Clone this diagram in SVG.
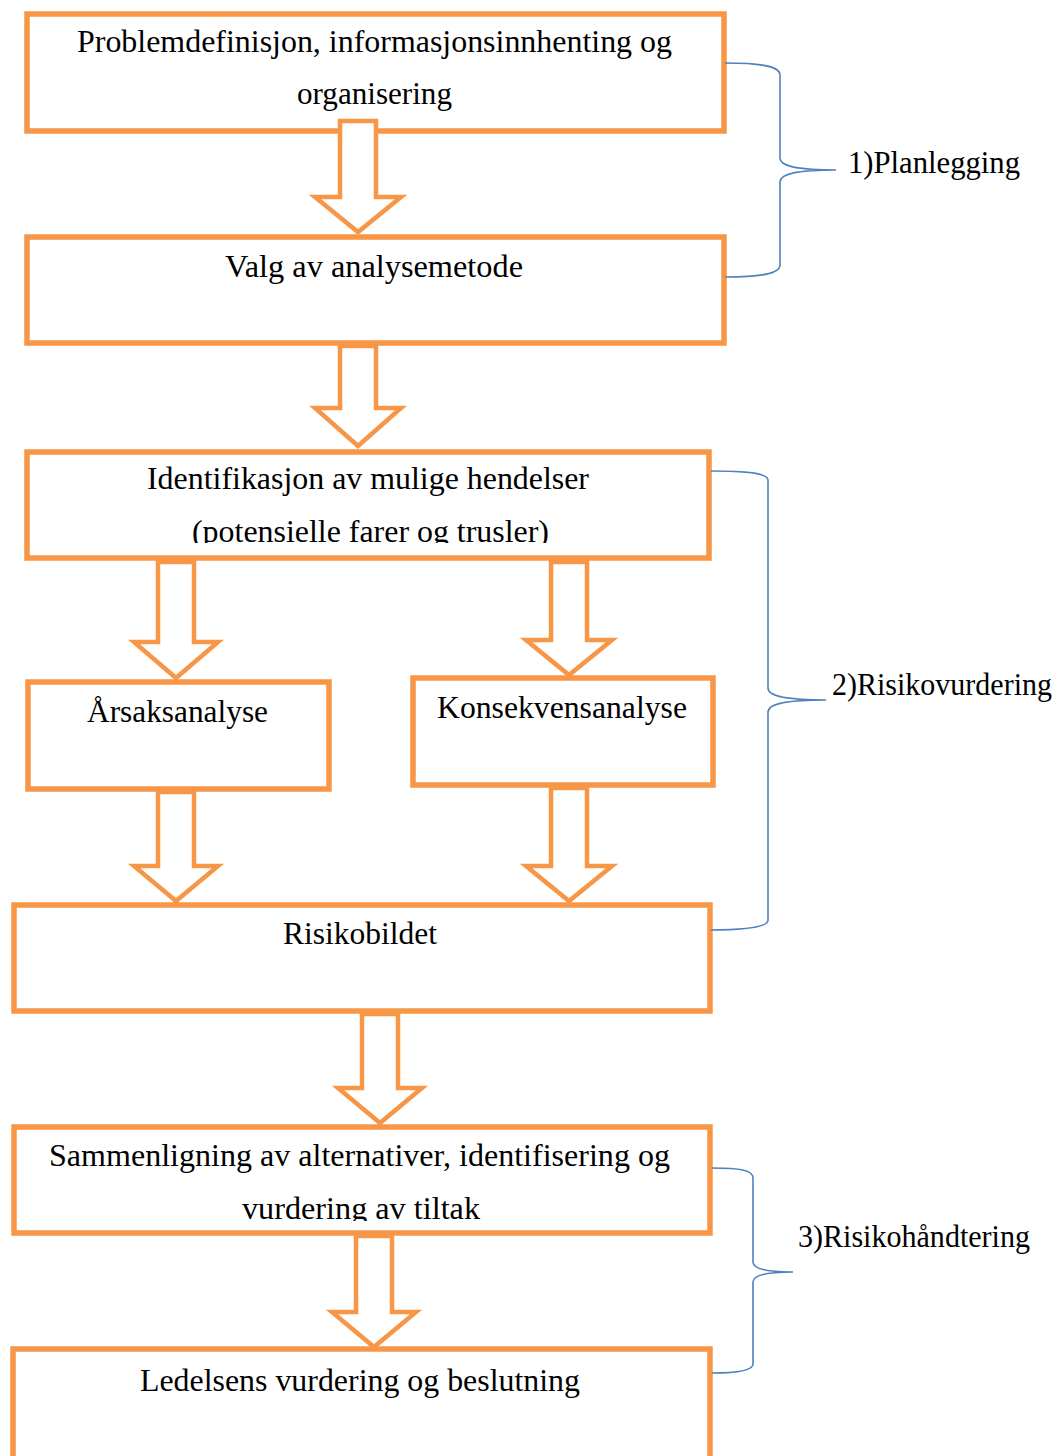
<svg xmlns="http://www.w3.org/2000/svg" width="1057" height="1456" viewBox="0 0 1057 1456">
<style>
.box{fill:#fff;stroke:#F79646;stroke-width:5.5}
.arr{fill:#fff;stroke:#F79646;stroke-width:4.5;stroke-linejoin:miter}
.brace{fill:none;stroke:#4F81BD;stroke-width:1.6}
.t{font-family:'Liberation Serif','DejaVu Serif',serif;font-size:31px;fill:#000}
</style>
<defs>
<clipPath id="c3"><rect x="0" y="440" width="1057" height="103"/></clipPath>
<clipPath id="c7"><rect x="0" y="1120" width="1057" height="101"/></clipPath>
</defs>
<rect width="1057" height="1456" fill="#fff"/>
<g id="n1"><rect class="box" x="27" y="14" width="697" height="117"/>
<text class="t" x="77" y="52" textLength="595" lengthAdjust="spacingAndGlyphs">Problemdefinisjon, informasjonsinnhenting og</text>
<text class="t" x="297" y="104" textLength="155" lengthAdjust="spacingAndGlyphs">organisering</text></g>
<g id="n2"><rect class="box" x="27" y="237" width="697" height="106"/>
<text class="t" x="225" y="277" textLength="298" lengthAdjust="spacingAndGlyphs">Valg av analysemetode</text></g>
<g id="n3"><rect class="box" x="27" y="452" width="682" height="106"/>
<text class="t" x="147" y="489" textLength="442" lengthAdjust="spacingAndGlyphs">Identifikasjon av mulige hendelser</text>
<text class="t" x="192" y="542" textLength="357" lengthAdjust="spacingAndGlyphs" clip-path="url(#c3)">(potensielle farer og trusler)</text></g>
<g id="n4"><rect class="box" x="28" y="682" width="301" height="107"/>
<text class="t" x="87" y="722" textLength="181" lengthAdjust="spacingAndGlyphs">Årsaksanalyse</text></g>
<g id="n5"><rect class="box" x="413" y="678" width="300" height="107"/>
<text class="t" x="437" y="718" textLength="250" lengthAdjust="spacingAndGlyphs">Konsekvensanalyse</text></g>
<g id="n6"><rect class="box" x="14" y="905" width="696" height="106"/>
<text class="t" x="283" y="944" textLength="154" lengthAdjust="spacingAndGlyphs">Risikobildet</text></g>
<g id="n7"><rect class="box" x="14" y="1127" width="696" height="106"/>
<text class="t" x="49" y="1166" textLength="621" lengthAdjust="spacingAndGlyphs">Sammenligning av alternativer, identifisering og</text>
<text class="t" x="242" y="1219" textLength="238" lengthAdjust="spacingAndGlyphs" clip-path="url(#c7)">vurdering av tiltak</text></g>
<g id="n8"><rect class="box" x="13" y="1349" width="697" height="130"/>
<text class="t" x="140" y="1391" textLength="440" lengthAdjust="spacingAndGlyphs">Ledelsens vurdering og beslutning</text></g>
<g id="connectors">
<path class="arr" d="M340,121 H376 V197 H401 L358,232 L315,197 H340 Z"/>
<path class="arr" d="M340,346 H376 V408 H401 L358,446 L315,408 H340 Z"/>
<path class="arr" d="M158,562 H194 V642 H218 L176,678 L134,642 H158 Z"/>
<path class="arr" d="M551,562 H587 V640 H612 L569,675 L526,640 H551 Z"/>
<path class="arr" d="M158,792 H194 V866 H218 L176,901 L134,866 H158 Z"/>
<path class="arr" d="M551,788 H587 V866 H612 L569,901 L526,866 H551 Z"/>
<path class="arr" d="M362,1014 H398 V1088 H422 L380,1123 L338,1088 H362 Z"/>
<path class="arr" d="M356,1236 H392 V1312 H416 L374,1347 L332,1312 H356 Z"/>
</g>
<g id="brace1"><path class="brace" d="M725,63 C760,63 780,66 780,75 V158 C780,166 795,170 836,170 C795,170 780,174 780,182 V265 C780,274 760,277 725,277"/>
<text class="t" x="848" y="173" textLength="172" lengthAdjust="spacingAndGlyphs">1)Planlegging</text></g>
<g id="brace2"><path class="brace" d="M711,471 C745,471 768,473 768,480 V688 C768,696 785,700 826,700 C785,700 768,704 768,712 V920 C768,927 745,930 711,930"/>
<text class="t" x="832" y="695" textLength="220" lengthAdjust="spacingAndGlyphs">2)Risikovurdering</text></g>
<g id="brace3"><path class="brace" d="M712,1168 C740,1168 753,1170 753,1178 V1262 C753,1268 765,1272 793,1272 C765,1272 753,1276 753,1282 V1364 C753,1370 740,1373 712,1373"/>
<text class="t" x="798" y="1247" textLength="232" lengthAdjust="spacingAndGlyphs">3)Risikohåndtering</text></g>
</svg>
